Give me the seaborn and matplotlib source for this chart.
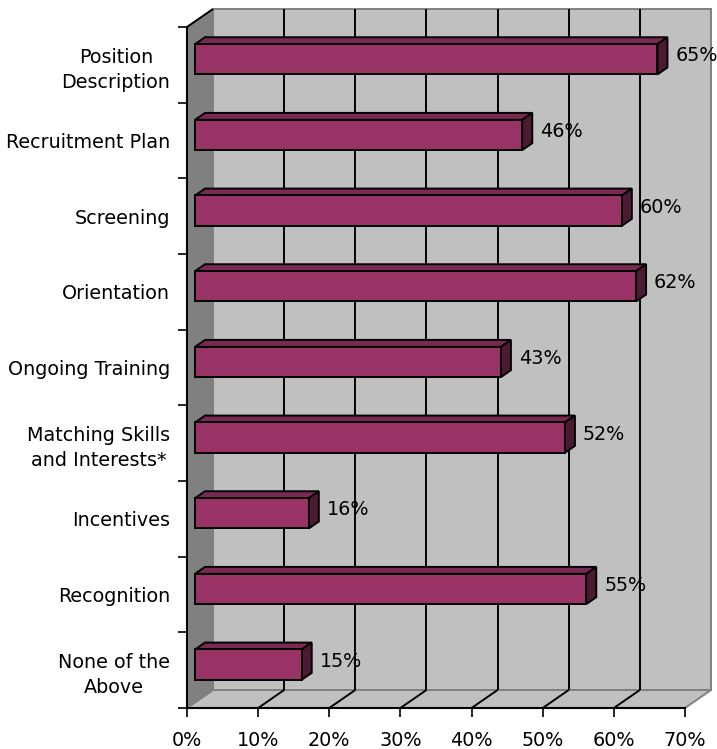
import numpy as np
import pandas as pd
import seaborn as sns
import matplotlib
matplotlib.use("Agg")
import matplotlib.pyplot as plt
from matplotlib.patches import Polygon
from matplotlib.lines import Line2D
from matplotlib.transforms import IdentityTransform, offset_copy

# Survey items and share of respondents (%)
categories = [
    "Position\nDescription",
    "Recruitment Plan",
    "Screening",
    "Orientation",
    "Ongoing Training",
    "Matching Skills\nand Interests*",
    "Incentives",
    "Recognition",
    "None of the\nAbove",
]
percentages = [65, 46, 60, 62, 43, 52, 16, 55, 15]
x_ticks = [0, 10, 20, 30, 40, 50, 60, 70]
x_tick_labels = [f"{t}%" for t in x_ticks]

sns.set_theme(style="white")
plt.rcParams["font.family"] = ["DejaVu Sans"]

FONT = 13.8
BAR_FRONT = "#993366"
BAR_TOP = "#7A2952"
BAR_SIDE = "#4D1A33"
WALL = "#C0C0C0"
SIDE_WALL = "#808080"
EDGE = "#808080"

W, H = 717, 749
fig = plt.figure(figsize=(W / 100, H / 100), dpi=100, facecolor="white")
# axes span the front plane of the 3-D box
ax = fig.add_axes([187 / W, (H - 708) / H, 498 / W, 681 / H])

df = pd.DataFrame({"item": categories, "pct": percentages})
sns.barplot(data=df, x="pct", y="item", orient="h", color=BAR_FRONT,
            saturation=1, width=0.4, edgecolor="black", linewidth=1.4,
            ax=ax, zorder=4)
bars = list(ax.patches)

ax.set_xlim(0, 70)
ax.set_ylim(8.5, -0.5)
ax.set_autoscale_on(False)
ax.patch.set_visible(False)

DEPTH = 26.0            # box depth in pixels along x
SLOPE = 18.0 / 26.0     # vertical rise per pixel of depth
BAR_D0 = 8.0            # depth of bar front face
BAR_D1 = 18.0           # depth of bar back face


def proj(x, y, d):
    px, py = ax.transData.transform((x, y))
    return (px + d, py + d * SLOPE)


def poly(points, face, edge="none", lw=0.0, z=1):
    p = Polygon(points, closed=True, facecolor=face, edgecolor=edge,
                linewidth=lw, transform=IdentityTransform(), clip_on=False,
                zorder=z, joinstyle="miter")
    ax.add_artist(p)


def seg(p0, p1, color="black", lw=1.4, z=1.5):
    ln = Line2D([p0[0], p1[0]], [p0[1], p1[1]], color=color, linewidth=lw,
                transform=IdentityTransform(), clip_on=False, zorder=z,
                solid_capstyle="butt")
    ax.add_artist(ln)


x0, x1 = 0, 70
ytop, ybot = -0.5, 8.5

# back wall
poly([proj(x0, ytop, DEPTH), proj(x1, ytop, DEPTH),
      proj(x1, ybot, DEPTH), proj(x0, ybot, DEPTH)], WALL, EDGE, 1.4, z=0.5)
# floor
poly([proj(x0, ybot, 0), proj(x1, ybot, 0),
      proj(x1, ybot, DEPTH), proj(x0, ybot, DEPTH)], WALL, EDGE, 1.4, z=0.6)
# left side wall
poly([proj(x0, ytop, 0), proj(x0, ytop, DEPTH),
      proj(x0, ybot, DEPTH), proj(x0, ybot, 0)], SIDE_WALL, EDGE, 1.0, z=0.7)

# gridlines on back wall and floor
for t in x_ticks[1:-1]:
    seg(proj(t, ytop, DEPTH), proj(t, ybot, DEPTH))
    seg(proj(t, ybot, 0), proj(t, ybot, DEPTH))
# top edge of side wall
seg(proj(x0, ytop, 0), proj(x0, ytop, DEPTH), lw=1.4, z=1.6)

# 3-D bars: shift front faces back, add top and side faces
bar_shift = offset_copy(ax.transData, fig=fig, x=BAR_D0, y=BAR_D0 * SLOPE,
                        units="dots")
for patch in bars:
    patch.set_transform(bar_shift)
    bx, by = patch.get_x(), patch.get_y()
    bw, bh = patch.get_width(), patch.get_height()
    bx1 = bx + bw
    poly([proj(bx, by, BAR_D0), proj(bx1, by, BAR_D0),
          proj(bx1, by, BAR_D1), proj(bx, by, BAR_D1)],
         BAR_TOP, "black", 1.4, z=3.9)
    poly([proj(bx1, by, BAR_D0), proj(bx1, by + bh, BAR_D0),
          proj(bx1, by + bh, BAR_D1), proj(bx1, by, BAR_D1)],
         BAR_SIDE, "black", 1.4, z=3.9)

# value labels
for i, v in enumerate(percentages):
    ax.annotate(f"{v}%", xy=(v, i), xytext=(26, 3.5),
                textcoords="offset pixels", ha="left", va="baseline",
                fontsize=FONT, color="black", zorder=6)

# axes, ticks and labels on the front plane
for side in ["top", "right"]:
    ax.spines[side].set_visible(False)
for side in ["left", "bottom"]:
    ax.spines[side].set_visible(True)
    ax.spines[side].set_color("black")
    ax.spines[side].set_linewidth(1.5)
    ax.spines[side].set_zorder(2)

ax.set_xticks(x_ticks, labels=x_tick_labels)
ax.tick_params(axis="x", which="major", direction="out", length=6.5,
               width=1.2, pad=10, labelsize=FONT, colors="black",
               bottom=True)
ax.set_yticks(range(len(categories)), labels=categories)
ax.set_yticks(np.arange(-0.5, len(categories), 1.0), minor=True)
ax.tick_params(axis="y", which="major", length=0, pad=12, labelsize=FONT,
               colors="black", left=True)
ax.tick_params(axis="y", which="minor", direction="out", length=6.5,
               width=1.2, colors="black", left=True)
for lab in ax.get_yticklabels():
    lab.set_multialignment("center")
    lab.set_linespacing(1.4)
ax.set_xlabel("")
ax.set_ylabel("")
ax.grid(False)

fig.savefig("out.png", dpi=100, facecolor="white")
